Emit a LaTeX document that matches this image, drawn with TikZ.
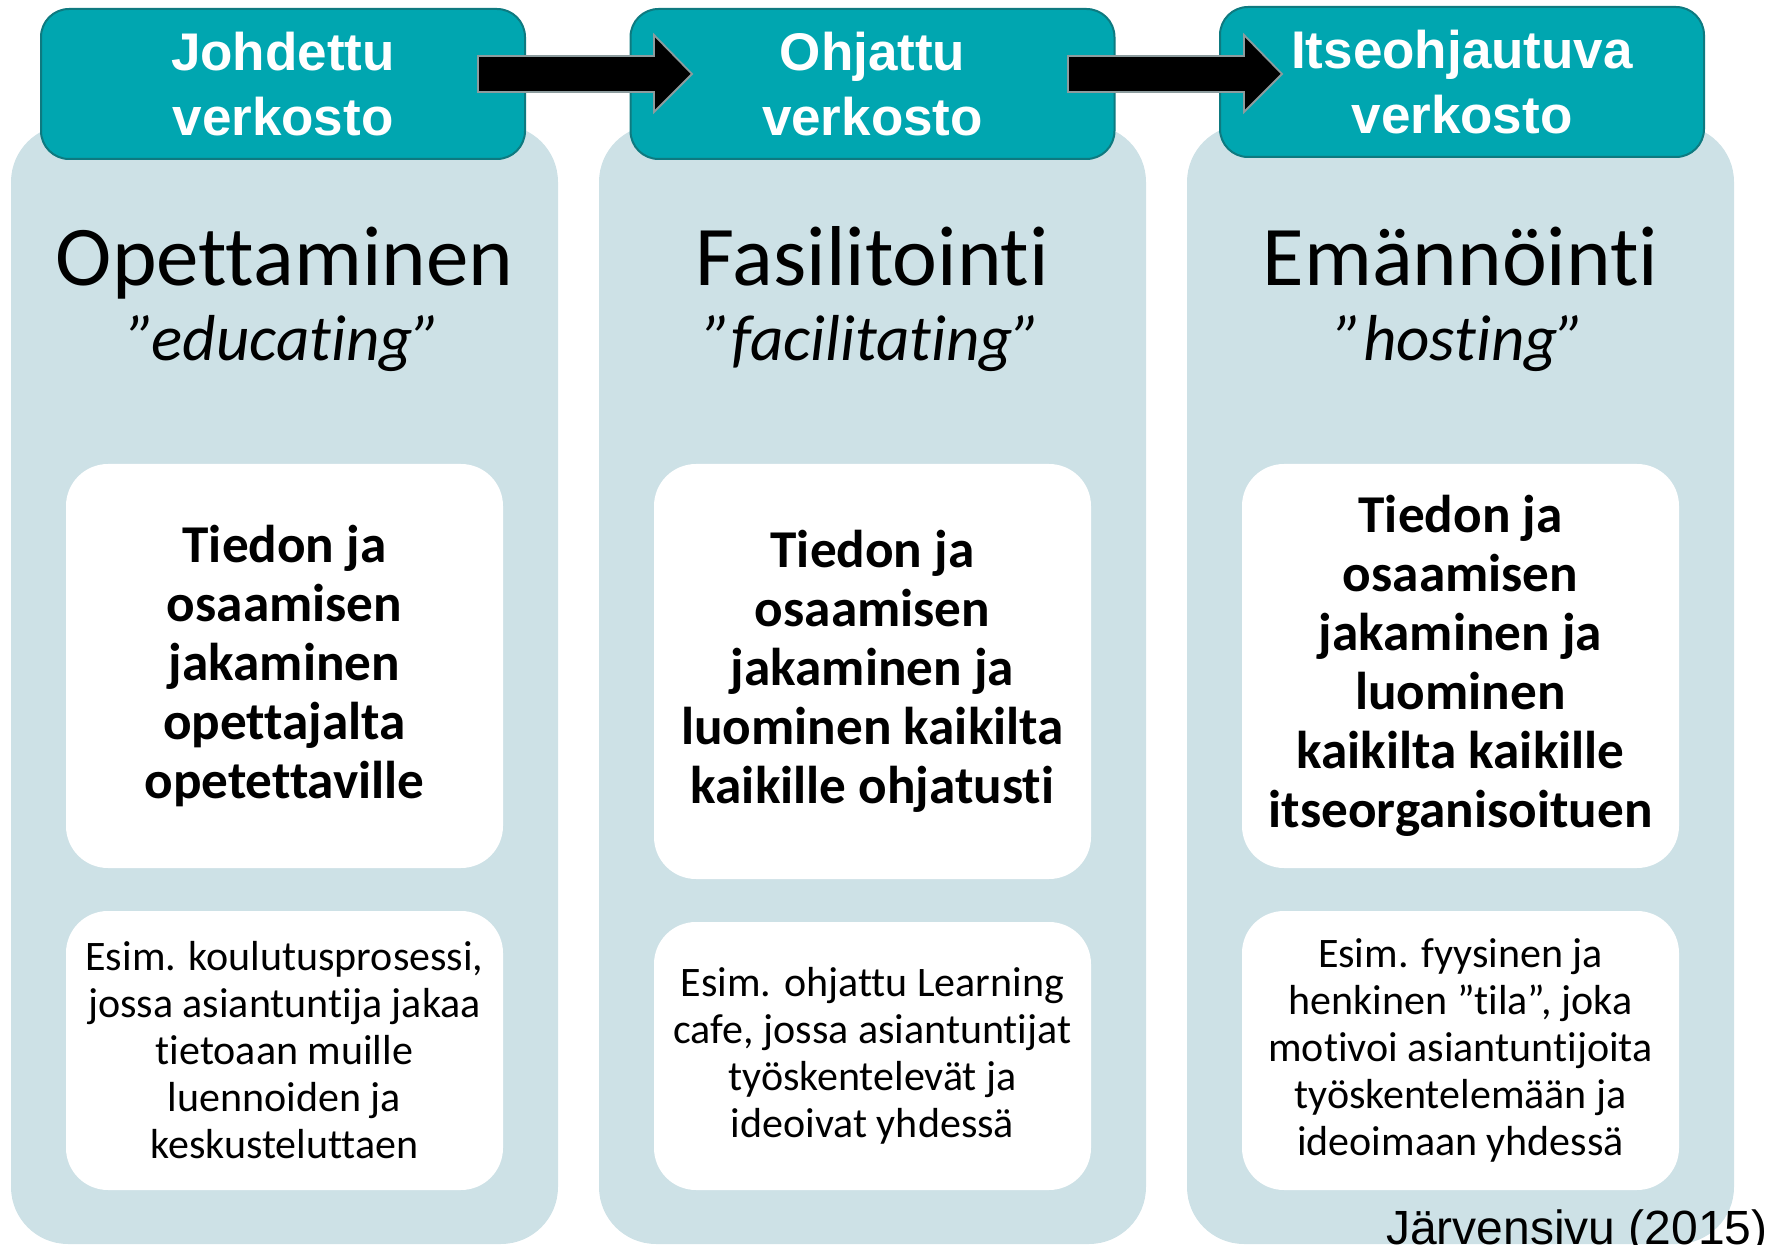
\documentclass[tikz,border=0pt]{standalone}
\usepackage{fontspec}
\setmainfont{Carlito}[Ligatures=NoCommon]
\newfontfamily\arialfont{Liberation Sans}
\definecolor{teal1}{HTML}{00A6B0}
\definecolor{tealdark}{HTML}{0E7A80}
\definecolor{panelblue}{HTML}{CDE1E6}
\definecolor{arrowedge}{HTML}{8C9C9E}
\tikzset{
  panel/.style={fill=panelblue, draw=none, rounded corners=28.5pt, minimum width=273.5pt, minimum height=559.5pt, inner sep=0pt},
  header/.style={fill=teal1, draw=tealdark, line width=1pt, rounded corners=14pt, minimum width=242pt, minimum height=75pt, inner sep=0pt, align=center, text=white, font=\arialfont\bfseries\fontsize{26.5pt}{32.5pt}\selectfont},
  wbig/.style={fill=white, draw=none, rounded corners=21pt, minimum width=218.5pt, inner sep=0pt, align=center, font=\bfseries\fontsize{26.6pt}{29.5pt}\selectfont},
  wsmall/.style={fill=white, draw=none, rounded corners=21pt, minimum width=218.5pt, inner sep=0pt, align=center, font=\fontsize{21pt}{23.5pt}\selectfont},
  titletext/.style={anchor=base, inner sep=0pt, font=\fontsize{42.5pt}{48pt}\selectfont},
  subtitle/.style={anchor=base, inner sep=0pt, font=\itshape\fontsize{32.5pt}{38pt}\selectfont},
  blockarrow/.style={fill=black, draw=arrowedge, line width=0.9pt, line join=miter}
}
\begin{document}
\begin{tikzpicture}[x=0.5pt,y=-0.5pt]
\useasboundingbox (0,0) rectangle (1779,1245);
% panels
\node[panel] (p1) at (284.5,684.5) {};
\node[panel] (p2) at (872.5,684.5) {};
\node[panel] (p3) at (1460.5,684.5) {};
% headers
\node[header] (h1) at (283,84) {Johdettu\\verkosto};
\node[header] (h2) at (872.5,84) {Ohjattu\\verkosto};
\node[header] (h3) at (1462,82) {Itseohjautuva\\verkosto};
% block arrows
\draw[blockarrow] (478,56) -- (654,56) -- (654,35) -- (692,74) -- (654,112) -- (654,92) -- (478,92) -- cycle;
\draw[blockarrow] (1068,56) -- (1244,56) -- (1244,35) -- (1282,74) -- (1244,112) -- (1244,92) -- (1068,92) -- cycle;
% titles
\node[titletext] (t1) at (284.5,286) {Opettaminen};
\node[titletext] (t2) at (872.5,286) {Fasilitointi};
\node[titletext] (t3) at (1460.5,286) {Emännöinti};
\node[subtitle] (s1) at (284.5,361) {”educating”};
\node[subtitle] (s2) at (872.5,361) {”facilitating”};
\node[subtitle] (s3) at (1460.5,361) {”hosting”};
% white boxes
\node[wbig, minimum height=202pt] (w1a) at (284.5,666) {Tiedon ja\\osaamisen\\jakaminen\\opettajalta\\opetettaville};
\node[wbig, minimum height=207.5pt] (w2a) at (872.5,671.5) {Tiedon ja\\osaamisen\\jakaminen ja\\luominen kaikilta\\kaikille ohjatusti};
\node[wbig, minimum height=202pt] (w3a) at (1460.5,666) {Tiedon ja\\osaamisen\\jakaminen ja\\luominen\\kaikilta kaikille\\itseorganisoituen};
\node[wsmall, minimum height=139.5pt] (w1b) at (284.5,1050.5) {Esim. koulutusprosessi,\\jossa asiantuntija jakaa\\tietoaan muille\\luennoiden ja\\keskusteluttaen};
\node[wsmall, minimum height=134pt] (w2b) at (872.5,1056) {Esim. ohjattu Learning\\cafe, jossa asiantuntijat\\työskentelevät ja\\ideoivat yhdessä};
\node[wsmall, minimum height=139.5pt] (w3b) at (1460.5,1050.5) {Esim. fyysinen ja\\henkinen ”tila”, joka\\motivoi asiantuntijoita\\työskentelemään ja\\ideoimaan yhdessä};
% citation
\node[anchor=base east, inner sep=0pt, font=\arialfont\fontsize{24pt}{28pt}\selectfont] (cite) at (1768,1244) {Järvensivu (2015)};
\end{tikzpicture}
\end{document}
